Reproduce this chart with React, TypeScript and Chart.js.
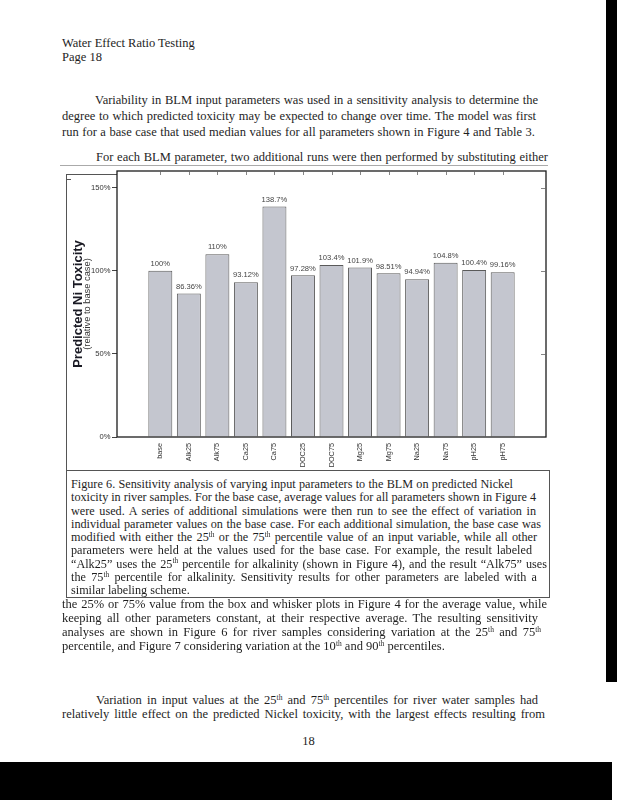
import React, { useEffect, useLayoutEffect, useRef } from "react";
import { Chart, registerables } from "chart.js";

Chart.register(...registerables);

const categories = ["base", "Alk25", "Alk75", "Ca25", "Ca75", "DOC25", "DOC75", "Mg25", "Mg75", "Na25", "Na75", "pH25", "pH75"];
const values = [100, 86.36, 110, 93.12, 138.7, 97.28, 103.4, 101.9, 98.51, 94.94, 104.8, 100.4, 99.16];
const valueLabels = ["100%", "86.36%", "110%", "93.12%", "138.7%", "97.28%", "103.4%", "101.9%", "98.51%", "94.94%", "104.8%", "100.4%", "99.16%"];
const yTicks = [0, 50, 100, 150];
const yTickLabels = ["0%", "50%", "100%", "150%"];
const yTitle = "Predicted Ni Toxicity";
const ySubtitle = "(relative to base case)";

const headerLines = ["Water Effect Ratio Testing", "Page 18"];
const para1 = [
  "Variability in BLM input parameters was used in a sensitivity analysis to determine the",
  "degree to which predicted toxicity may be expected to change over time.  The model was first",
  "run for a base case that used median values for all parameters shown in Figure 4 and Table 3.",
];
const para2 = ["For each BLM parameter, two additional runs were then performed by substituting either"];
const captionLines = [
  "Figure 6.  Sensitivity analysis of varying input parameters to the BLM on predicted Nickel",
  "toxicity in river samples.  For the base case, average values for all parameters shown in Figure 4",
  "were used.   A series of additional simulations were then run to see the effect of variation in",
  "individual parameter values on the base case. For each additional simulation, the base case was",
  "modified with either the 25^th or the 75^th percentile value of an input variable, while all other",
  "parameters were held at the values used for the base case.  For example, the result labeled",
  "\u201cAlk25\u201d uses the 25^th percentile for alkalinity (shown in Figure 4), and the result \u201cAlk75\u201d uses",
  "the 75^th percentile for alkalinity.  Sensitivity results for other parameters are labeled with a",
  "similar labeling scheme.",
];
const para3 = [
  "the 25% or 75% value from the box and whisker plots in Figure 4 for the average value, while",
  "keeping all other parameters constant, at their respective average.  The resulting sensitivity",
  "analyses are shown in Figure 6 for river samples considering variation at the 25^th and 75^th",
  "percentile, and Figure 7 considering variation at the 10^th and 90^th percentiles.",
];
const para4 = [
  "Variation in input values at the 25^th and 75^th percentiles for river water samples had",
  "relatively little effect on the predicted Nickel toxicity, with the largest effects resulting from",
];
const pageNumber = "18";

const SERIF = '"Liberation Serif", "Times New Roman", serif';
const SANS = '"Liberation Sans", Arial, sans-serif';
const CHART_FONT = 7.6;

function renderRich(text: string) {
  const parts = text.split(/(\^\w+)/);
  return parts.map((p, i) =>
    p.startsWith("^") ? (
      <sup key={i} style={{ fontSize: "0.6em", verticalAlign: "0", position: "relative", top: "-0.55em" }}>
        {p.slice(1)}
      </sup>
    ) : (
      <span key={i}>{p}</span>
    )
  );
}

function Line({ text, x, y, right, size = 12.5 }: { text: string; x: number; y: number; right?: number; size?: number }) {
  const ref = useRef<HTMLDivElement | null>(null);
  useLayoutEffect(() => {
    const el = ref.current;
    if (!el || right === undefined) return;
    el.style.wordSpacing = "0px";
    const natural = el.getBoundingClientRect().width;
    const spaces = (text.replace(/\s+/g, " ").match(/ /g) || []).length;
    if (spaces > 0) {
      el.style.wordSpacing = `${(right - x - natural) / spaces}px`;
    }
  }, [text, x, right]);
  return (
    <div
      ref={ref}
      style={{
        position: "absolute",
        left: x,
        top: y - 7,
        height: 14,
        lineHeight: "14px",
        fontFamily: SERIF,
        fontSize: size,
        color: "#1e1e1e",
        whiteSpace: "nowrap",
      }}
    >
      {renderRich(text)}
    </div>
  );
}

const framePlugin = {
  id: "framePlugin",
  afterDraw(chart: any) {
    const { ctx, chartArea: a, scales } = chart;
    const xs = scales.x;
    const ys = scales.y;
    ctx.save();
    ctx.strokeStyle = "#1c1c1c";
    ctx.lineWidth = 1.3;
    ctx.strokeRect(a.left, a.top, a.right - a.left, a.bottom - a.top);
    ctx.beginPath();
    ctx.lineWidth = 0.8;
    ctx.strokeStyle = "#666";
    categories.forEach((_, i) => {
      const px = Math.round(xs.getPixelForValue(i)) + 0.5;
      ctx.moveTo(px, a.top);
      ctx.lineTo(px, a.top + 4);
    });
    yTicks.forEach((v) => {
      const py = Math.round(ys.getPixelForValue(v)) + 0.5;
      ctx.moveTo(a.right, py);
      ctx.lineTo(a.right - 5, py);
    });
    ctx.stroke();

    ctx.font = `${CHART_FONT}px ${SANS}`;
    ctx.fillStyle = "#444";
    ctx.textAlign = "center";
    ctx.textBaseline = "bottom";
    const meta = chart.getDatasetMeta(0);
    meta.data.forEach((bar: any, i: number) => {
      ctx.fillText(valueLabels[i], bar.x, bar.y - 3);
    });

    ctx.translate(a.left - 39, (a.top + a.bottom) / 2);
    ctx.rotate(-Math.PI / 2);
    ctx.textBaseline = "middle";
    ctx.fillStyle = "#1a1a24";
    ctx.font = `bold 13px ${SANS}`;
    ctx.fillText(yTitle, 0, 0);
    ctx.font = `9.3px ${SANS}`;
    ctx.fillStyle = "#333";
    ctx.fillText(ySubtitle, 0, 9.5);
    ctx.restore();
  },
};

function BarChart() {
  const ref = useRef<HTMLCanvasElement | null>(null);
  useEffect(() => {
    if (!ref.current) return;
    const chart = new Chart(ref.current, {
      type: "bar",
      data: {
        datasets: [
          {
            data: values.map((v, i) => ({ x: i, y: v })),
            backgroundColor: "#c4c6cf",
            borderColor: "#5a5a5a",
            borderWidth: 1,
            barPercentage: 0.84,
            categoryPercentage: 1,
          },
        ],
      },
      options: {
        animation: false,
        responsive: false,
        devicePixelRatio: 1,
        layout: { padding: { top: 9, right: 14, left: 0, bottom: 0 } },
        plugins: { legend: { display: false }, tooltip: { enabled: false } },
        scales: {
          x: {
            type: "linear",
            min: -0.94,
            max: categories.length - 1 + 0.94,
            afterBuildTicks: (scale: any) => {
              scale.ticks = categories.map((_, i) => ({ value: i }));
            },
            afterFit: (scale: any) => {
              scale.height = 45;
            },
            grid: { display: false },
            border: { display: false },
            ticks: {
              autoSkip: false,
              minRotation: 90,
              maxRotation: 90,
              padding: -2,
              color: "#333",
              font: { family: SANS, size: 7.3 },
              callback: (v: any) => categories[v as number] ?? "",
            },
          },
          y: {
            min: 0,
            max: 160,
            afterBuildTicks: (scale: any) => {
              scale.ticks = yTicks.map((v) => ({ value: v }));
            },
            afterFit: (scale: any) => {
              scale.width = 57;
            },
            grid: { display: true, drawOnChartArea: false, drawTicks: true, tickLength: 5, color: "#444" },
            border: { display: false },
            ticks: {
              padding: 1.5,
              color: "#333",
              font: { family: SANS, size: CHART_FONT },
              callback: (v: any) => yTickLabels[yTicks.indexOf(v as number)] ?? "",
            },
          },
        },
      },
      plugins: [framePlugin],
    } as any);
    return () => chart.destroy();
  }, []);
  return (
    <canvas
      ref={ref}
      width={500}
      height={320}
      style={{ position: "absolute", left: 60, top: 162, width: 500, height: 320 }}
    />
  );
}

const captionRights = [513, 536, 536, 541, 537, 532, 547, 537, undefined];
const para3Rights = [547, 538, 541, undefined];

export default function App() {
  return (
    <div
      style={{
        position: "absolute",
        left: 0,
        top: 0,
        width: 617,
        height: 800,
        overflow: "hidden",
        background: "#fff",
      }}
    >
      <Line text={headerLines[0]} x={62} y={43} />
      <Line text={headerLines[1]} x={62} y={57} />
      <Line text={para1[0]} x={95} y={100} right={538} />
      <Line text={para1[1]} x={62} y={116} right={536} />
      <Line text={para1[2]} x={62} y={132} right={535} />
      <Line text={para2[0]} x={96} y={157} right={548} />

      <div style={{ position: "absolute", left: 60, top: 165, width: 488, height: 1, background: "#aaa" }} />
      <div style={{ position: "absolute", left: 66, top: 174, width: 1, height: 424, background: "#555" }} />
      <div style={{ position: "absolute", left: 66, top: 174, width: 51, height: 1, background: "#555" }} />
      <div style={{ position: "absolute", left: 66, top: 179, width: 5, height: 1, background: "#555" }} />

      <BarChart />

      <div
        style={{
          position: "absolute",
          left: 66,
          top: 470,
          width: 484,
          height: 128,
          border: "1px solid #555",
          boxSizing: "border-box",
          background: "#fff",
        }}
      />
      {captionLines.map((t, i) => (
        <Line key={i} text={t} x={71} y={484 + i * 13.25} right={captionRights[i]} size={12.2} />
      ))}
      {para3.map((t, i) => (
        <Line key={i} text={t} x={62} y={604 + i * 14} right={para3Rights[i]} />
      ))}
      <Line text={para4[0]} x={96} y={700} right={538} />
      <Line text={para4[1]} x={62} y={714} right={545} />
      <div
        style={{
          position: "absolute",
          left: 0,
          width: 617,
          top: 734,
          textAlign: "center",
          fontFamily: SERIF,
          fontSize: 12.5,
          color: "#1e1e1e",
        }}
      >
        {pageNumber}
      </div>

      <div style={{ position: "absolute", left: 606, top: 0, width: 11, height: 682, background: "#000" }} />
      <div style={{ position: "absolute", left: 0, top: 762, width: 612, height: 38, background: "#000" }} />
    </div>
  );
}
